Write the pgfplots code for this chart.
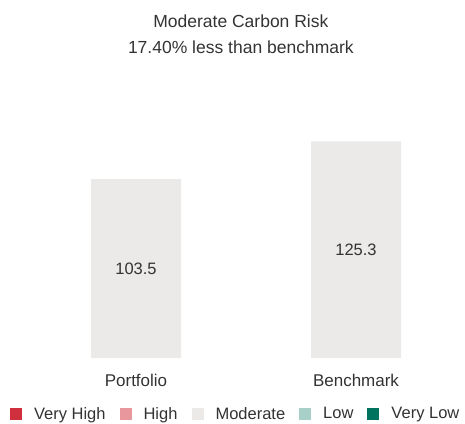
\documentclass[border=0pt]{standalone}
\usepackage{pgfplots}
\pgfplotsset{compat=1.18}
\usepackage{fontspec}
\setmainfont{Liberation Sans}
\definecolor{vhigh}{HTML}{D0303D}
\definecolor{high}{HTML}{E8979D}
\definecolor{moder}{HTML}{EBEAE9}
\definecolor{low}{HTML}{A8CFC8}
\definecolor{vlow}{HTML}{00735E}
\definecolor{txt}{HTML}{333333}
\begin{document}
\begin{tikzpicture}
\useasboundingbox (0pt,0pt) rectangle (465pt,423pt);
\begin{axis}[
  at={(48pt,65pt)}, anchor=south west,
  scale only axis, width=396pt, height=242pt,
  xmin=-0.4, xmax=1.4, ymin=0, ymax=140,
  axis line style={draw=none},
  major tick length=0pt,
  ytick=\empty,
  xtick={0,1}, xticklabels={Portfolio,Benchmark},
  xticklabel style={font=\fontsize{17}{19}\selectfont, text=txt, yshift=-13pt},
  title={Moderate Carbon Risk\\17.40\% less than benchmark},
  title style={at={(axis description cs:0.487,1.314)}, anchor=center, align=center,
    font=\fontsize{17.5}{26}\selectfont, text=txt},
  legend columns=5,
  legend style={draw=none, at={(axis description cs:0.474,-0.231)}, anchor=center,
    font=\fontsize{16.5}{19}\selectfont, text=txt,
    /tikz/every odd column/.append style={column sep=10pt},
    /tikz/every even column/.append style={column sep=12pt}},
  legend image code/.code={\fill[#1,draw=none] (0pt,-6pt) rectangle (12pt,6pt);},
]
\addplot[ybar, bar width=90pt, fill=moder, draw=none, forget plot] coordinates {(0,103.5) (1,125.3)};
\addplot[draw=none, mark=none, forget plot, nodes near coords, point meta=explicit symbolic,
  every node near coord/.style={anchor=center, font=\fontsize{16.5}{18}\selectfont, text=txt}]
  coordinates {(0,51.75)[103.5] (1,62.65)[125.3]};
\addlegendimage{fill=vhigh}\addlegendentry{Very High}
\addlegendimage{fill=high}\addlegendentry{High}
\addlegendimage{fill=moder}\addlegendentry{Moderate}
\addlegendimage{fill=low}\addlegendentry{Low}
\addlegendimage{fill=vlow}\addlegendentry{Very Low}
\end{axis}
\end{tikzpicture}
\end{document}
